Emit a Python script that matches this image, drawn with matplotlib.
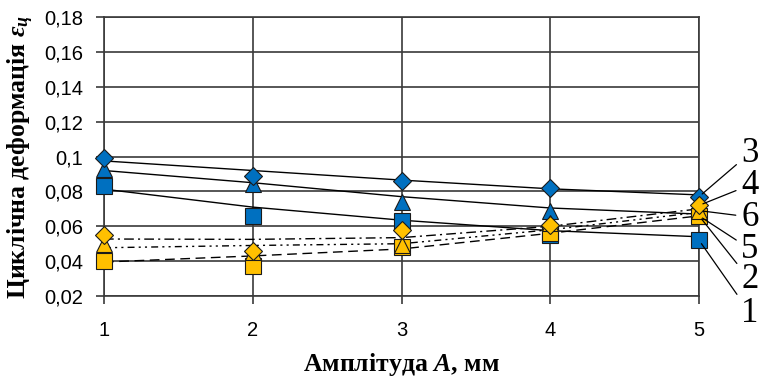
import matplotlib
matplotlib.use("Agg")
import matplotlib.pyplot as plt

plt.rcParams['font.family'] = ['Liberation Sans', 'DejaVu Sans']
plt.rcParams['mathtext.fontset'] = 'custom'
plt.rcParams['mathtext.it'] = 'Liberation Serif:italic:bold'
plt.rcParams['mathtext.rm'] = 'Liberation Serif:bold'
plt.rcParams['mathtext.bf'] = 'Liberation Serif:bold'

# amplitude, mm
amp = [1, 2, 3, 4, 5]

# measured points (blue = series 1-3, yellow = series 4-6)
s1_sq = [0.083, 0.066, 0.063, 0.055, 0.052]
s2_tri = [0.093, 0.084, 0.074, 0.069, 0.066]
s3_dia = [0.099, 0.089, 0.086, 0.082, 0.077]
s4_dia = [0.055, 0.046, 0.058, 0.061, 0.072]
s5_sq = [0.040, 0.037, 0.048, 0.056, 0.066]
s6_tri = [0.050, 0.045, 0.049, 0.062, 0.069]

# trend lines at each amplitude
t1 = [0.0813, 0.071, 0.0635, 0.0575, 0.054]
t2 = [0.092, 0.085, 0.077, 0.0705, 0.067]
t3 = [0.0975, 0.092, 0.0865, 0.0815, 0.078]
t4 = [0.0527, 0.0525, 0.0535, 0.060, 0.070]
t6 = [0.0477, 0.049, 0.050, 0.058, 0.068]
t5 = [0.0395, 0.043, 0.047, 0.056, 0.066]

yticks = [0.02, 0.04, 0.06, 0.08, 0.1, 0.12, 0.14, 0.16, 0.18]
ytick_labels = ['0,02', '0,04', '0,06', '0,08', '0,1', '0,12', '0,14', '0,16', '0,18']

blue = '#0070C0'
yellow = '#FFC000'
edge = '#1a1a1a'

fig = plt.figure(figsize=(7.59, 3.8), dpi=100)
ax = fig.add_axes([0.137, 0.221, 0.784, 0.734])

# trend lines
ax.plot(amp, t3, color='black', lw=1.0, zorder=3)
ax.plot(amp, t2, color='black', lw=1.0, zorder=3)
ax.plot(amp, t1, color='black', lw=1.0, zorder=3)
ax.plot(amp, t4, color='black', lw=1.0, dashes=(7, 3, 1.5, 3), zorder=3)
ax.plot(amp, t6, color='black', lw=1.0, dashes=(5, 3, 1.5, 3, 1.5, 3), zorder=3)
ax.plot(amp, t5, color='black', lw=1.0, dashes=(7, 4), zorder=3)

# markers
mk = dict(ls='none', mec=edge, mew=0.8, clip_on=False)
ax.plot(amp, s1_sq, marker='s', ms=11.5, mfc=blue, zorder=4, **mk)
ax.plot(amp, s2_tri, marker='^', ms=12, mfc=blue, zorder=4, **mk)
ax.plot(amp, s3_dia, marker='D', ms=9, mfc=blue, zorder=4, **mk)
ax.plot(amp, s5_sq, marker='s', ms=11.5, mfc=yellow, zorder=5, **mk)
ax.plot(amp, s6_tri, marker='^', ms=12, mfc=yellow, zorder=5, **mk)
ax.plot(amp, s4_dia, marker='D', ms=9, mfc=yellow, zorder=5, **mk)

ax.set_xlim(1, 5)
ax.set_ylim(0.02, 0.18)
ax.set_xticks(amp)
ax.set_xticklabels([str(a) for a in amp])
ax.set_yticks(yticks)
ax.set_yticklabels(ytick_labels)
ax.tick_params(axis='both', labelsize=14.5, direction='out', length=6,
               color='#3a3a3a', width=1.2)
ax.tick_params(axis='y', pad=9)
ax.tick_params(axis='x', pad=12)
ax.grid(True, color='#3a3a3a', lw=1.2)
ax.set_axisbelow(True)
for sp in ax.spines.values():
    sp.set_color('#3a3a3a')
    sp.set_linewidth(1.2)

ax.set_xlabel('Амплітуда $A$, мм', fontsize=18.5, fontweight='bold',
              family='Liberation Serif', labelpad=8)
ax.set_ylabel('Циклічна деформація $\\varepsilon_ц$', fontsize=18.5,
              fontweight='bold', family='Liberation Serif', labelpad=6)

# series numbers at the right
labels = [('3', s3_dia, 153), ('4', s4_dia, 185), ('6', s6_tri, 217),
          ('5', s5_sq, 249), ('2', s2_tri, 280), ('1', s1_sq, 313)]
for txt, ser, ypix in labels:
    ax.annotate(txt, xy=(5, ser[-1]), xytext=(750, 380 - ypix),
                textcoords='figure pixels', ha='center', va='center',
                fontsize=25, family='Liberation Serif',
                arrowprops=dict(arrowstyle='-', lw=0.9, color='black',
                                shrinkA=2, shrinkB=3),
                annotation_clip=False, zorder=6)

fig.savefig('out.png', dpi=100)
